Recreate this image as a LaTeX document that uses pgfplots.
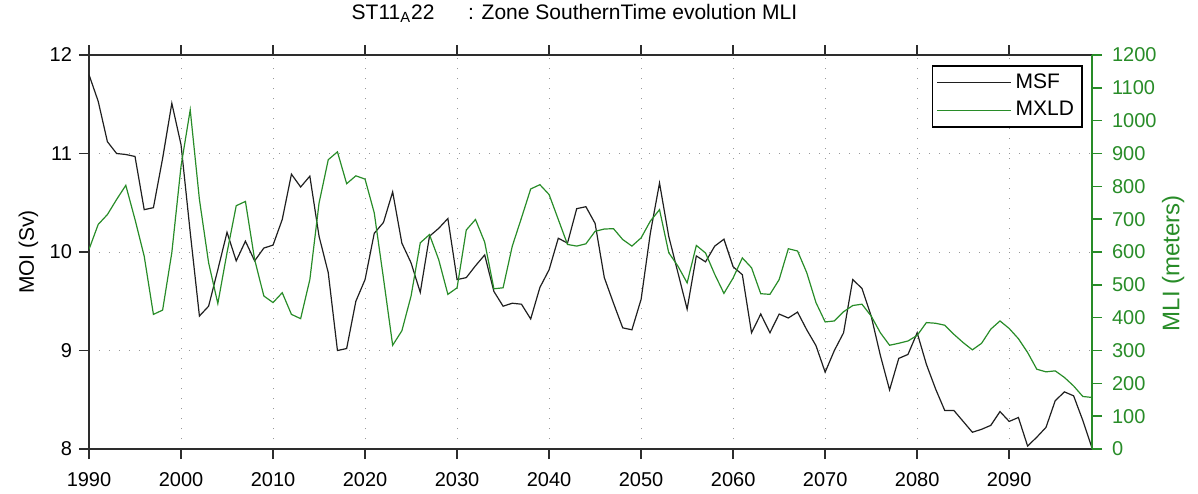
\documentclass[border=0pt]{standalone}
\usepackage{fontspec}
\setmainfont{Liberation Sans}
\usepackage{pgfplots}
\usepackage{pgfplotstable}
\pgfplotsset{compat=1.18}
\definecolor{mgreen}{RGB}{40,140,40}
\definecolor{axgray}{RGB}{45,45,45}
\pgfplotstableread{
year msf
1990 11.80
1991 11.53
1992 11.12
1993 11.00
1994 10.99
1995 10.97
1996 10.43
1997 10.45
1998 10.95
1999 11.51
2000 11.09
2001 10.20
2002 9.35
2003 9.45
2004 9.82
2005 10.20
2006 9.91
2007 10.11
2008 9.91
2009 10.04
2010 10.07
2011 10.33
2012 10.79
2013 10.66
2014 10.77
2015 10.16
2016 9.79
2017 9.00
2018 9.02
2019 9.50
2020 9.72
2021 10.19
2022 10.30
2023 10.61
2024 10.09
2025 9.89
2026 9.59
2027 10.16
2028 10.24
2029 10.34
2030 9.72
2031 9.74
2032 9.86
2033 9.97
2034 9.60
2035 9.45
2036 9.48
2037 9.47
2038 9.32
2039 9.64
2040 9.82
2041 10.14
2042 10.09
2043 10.44
2044 10.46
2045 10.29
2046 9.74
2047 9.48
2048 9.23
2049 9.21
2050 9.52
2051 10.19
2052 10.70
2053 10.16
2054 9.79
2055 9.42
2056 9.96
2057 9.90
2058 10.06
2059 10.13
2060 9.85
2061 9.77
2062 9.18
2063 9.37
2064 9.18
2065 9.37
2066 9.33
2067 9.39
2068 9.21
2069 9.05
2070 8.78
2071 9.00
2072 9.18
2073 9.72
2074 9.63
2075 9.35
2076 8.95
2077 8.60
2078 8.92
2079 8.96
2080 9.18
2081 8.86
2082 8.61
2083 8.39
2084 8.39
2085 8.28
2086 8.17
2087 8.20
2088 8.24
2089 8.38
2090 8.28
2091 8.32
2092 8.03
2093 8.12
2094 8.22
2095 8.49
2096 8.58
2097 8.54
2098 8.29
2099 8.01
}\msftable
\pgfplotstableread{
year mxld
1990 608
1991 684
1992 714
1993 760
1994 803
1995 699
1996 587
1997 410
1998 423
1999 598
2000 861
2001 1033
2002 760
2003 567
2004 443
2005 598
2006 741
2007 754
2008 577
2009 466
2010 446
2011 476
2012 410
2013 397
2014 516
2015 749
2016 881
2017 905
2018 808
2019 832
2020 822
2021 719
2022 520
2023 316
2024 360
2025 466
2026 628
2027 653
2028 577
2029 471
2030 491
2031 667
2032 699
2033 630
2034 488
2035 491
2036 618
2037 704
2038 792
2039 805
2040 775
2041 699
2042 623
2043 618
2044 625
2045 663
2046 670
2047 671
2048 638
2049 618
2050 643
2051 694
2052 729
2053 598
2054 557
2055 506
2056 620
2057 597
2058 532
2059 474
2060 521
2061 582
2062 552
2063 473
2064 471
2065 516
2066 610
2067 603
2068 537
2069 446
2070 387
2071 390
2072 418
2073 437
2074 441
2075 405
2076 354
2077 316
2078 322
2079 329
2080 346
2081 385
2082 383
2083 377
2084 349
2085 324
2086 302
2087 322
2088 365
2089 390
2090 367
2091 336
2092 294
2093 243
2094 235
2095 238
2096 218
2097 192
2098 160
2099 157
}\mxldtable
\begin{document}
\begin{tikzpicture}
\begin{axis}[
  name=main,
  scale only axis,
  width=501.5pt, height=197pt,
  xmin=1990, xmax=2099,
  ymin=8, ymax=12,
  xtick={1990,2000,...,2090},
  ytick={8,9,10,11,12},
  ytick pos=left,
  tick align=outside,
  major tick length=5pt,
  axis line style={axgray, line width=0.9pt},
  every tick/.style={axgray, line width=0.8pt},
  /pgf/number format/assume math mode=true,
  /pgf/number format/set thousands separator={},
  tick label style={font=\fontsize{10}{12}\selectfont, black},
  xticklabel style={yshift=-3pt},
  grid=major,
  major grid style={gray!80, line width=0.5pt, dash pattern=on 0.6pt off 4.4pt},
  ylabel={MOI (Sv)},
  ylabel style={at={(axis description cs:-0.0603,0.5)}, anchor=center, font=\fontsize{10.5}{12}\selectfont},
  title={ST11\textsubscript{A}22\hspace{1.6em}: Zone SouthernTime evolution MLI},
  title style={at={(axis description cs:0.5,1)}, anchor=base, yshift=12pt, xshift=-8pt, font=\fontsize{10.5}{12}\selectfont},
  legend style={at={(axis description cs:0.991,0.975)}, anchor=north east,
    draw=black, line width=0.9pt, font=\fontsize{10.5}{12}\selectfont,
    inner xsep=2pt, inner ysep=2pt, row sep=1pt,
    nodes={inner xsep=2pt}},
  legend cell align=left,
  legend image code/.code={\path (-5pt,0pt) -- (0pt,0pt); \draw[#1, line width=0.6pt] (0pt,0pt) -- (32pt,0pt);},
]
\addplot[color=black!88, line width=0.6pt] table[x=year, y=msf] {\msftable};
\addlegendentry{MSF}
\addlegendimage{color=mgreen, line width=0.6pt}
\addlegendentry{MXLD}
\end{axis}
\begin{axis}[
  scale only axis,
  width=501.5pt, height=197pt,
  xmin=1990, xmax=2099,
  ymin=0, ymax=1200,
  ytick={0,100,...,1200},
  axis x line=none,
  axis y line*=right,
  ytick pos=right,
  tick align=outside,
  major tick length=5pt,
  axis line style={mgreen, line width=0.9pt},
  every tick/.style={mgreen, line width=0.8pt},
  /pgf/number format/assume math mode=true,
  /pgf/number format/set thousands separator={},
  tick label style={font=\fontsize{10}{12}\selectfont, mgreen},
  yticklabel style={xshift=1.5pt},
  ylabel={MLI (meters)},
  ylabel style={at={(axis description cs:1.081,0.472)}, anchor=center, rotate=0, font=\fontsize{12}{14}\selectfont, mgreen},
]
\addplot[color=mgreen, line width=0.6pt] table[x=year, y=mxld] {\mxldtable};
\end{axis}
\pgfresetboundingbox
\path[use as bounding box] ([xshift=-44.5pt,yshift=-22pt]main.south west) rectangle ([xshift=53pt,yshift=27.5pt]main.north east);
\end{tikzpicture}
\end{document}
